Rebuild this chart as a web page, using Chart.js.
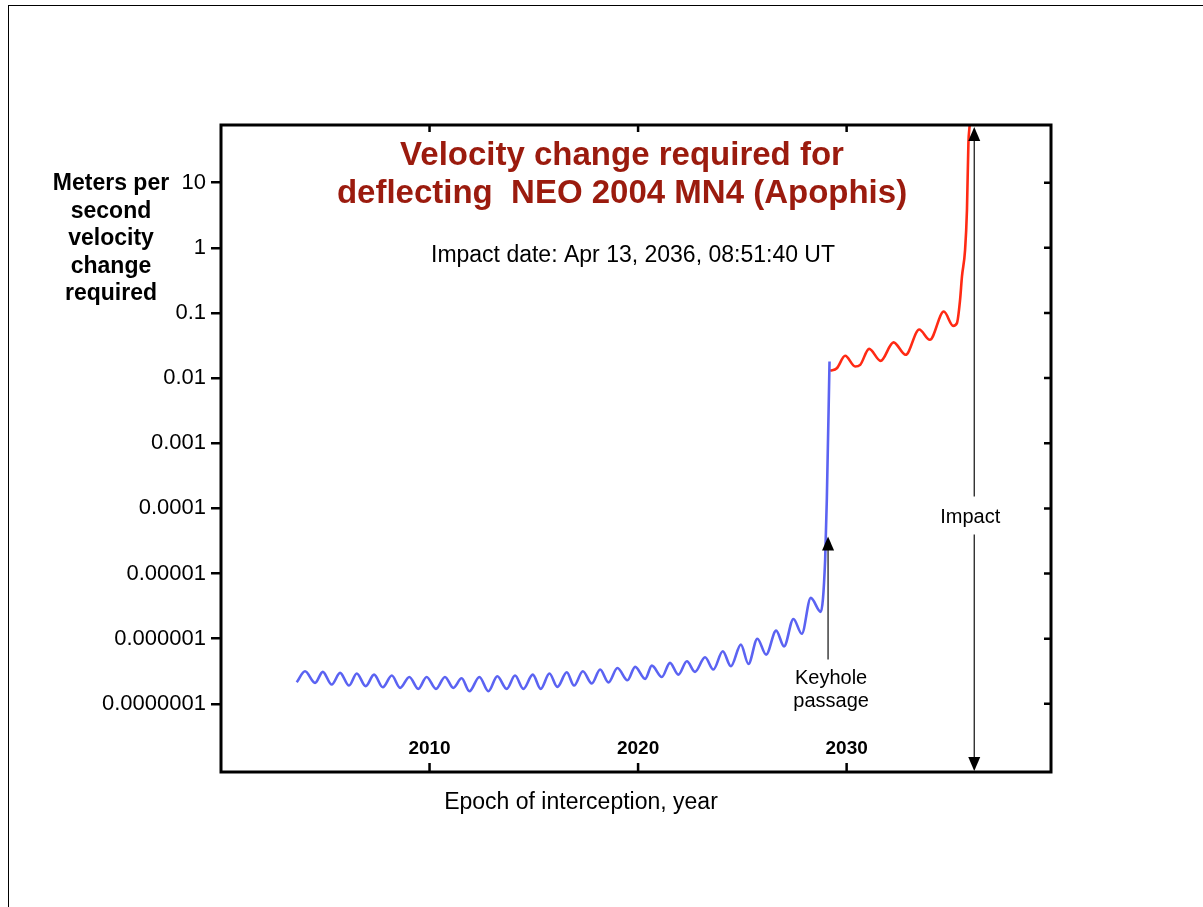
<!DOCTYPE html>
<html>
<head>
<meta charset="utf-8">
<title>Velocity change required for deflecting NEO 2004 MN4 (Apophis)</title>
<script src="https://cdn.jsdelivr.net/npm/chart.js@4.4.1/dist/chart.umd.min.js"></script>
<style>
  html, body { margin: 0; padding: 0; background: #fff; overflow: hidden; }
  #wrap { position: relative; width: 1203px; height: 907px; }
  #frame { position: absolute; left: 8px; top: 5px; width: 1300px; height: 1000px; border: 1.5px solid #000; pointer-events: none; }
</style>
</head>
<body>
<div id="wrap">
  <canvas id="chart"></canvas>
  <div id="frame"></div>
</div>
<script>
// ---- data ----
const blueYears = [
  2003.63, 2004.03, 2004.51, 2004.88, 2005.31, 2005.71, 2006.14, 2006.51, 2006.94, 2007.34,
  2007.76, 2008.19, 2008.59, 2009.03, 2009.46, 2009.86, 2010.31, 2010.74, 2011.14, 2011.54,
  2011.91, 2012.39, 2012.82, 2013.25, 2013.70, 2014.10, 2014.50, 2014.95, 2015.33, 2015.75,
  2016.13, 2016.58, 2016.93, 2017.35, 2017.78, 2018.18, 2018.58, 2019.01, 2019.49, 2019.86,
  2020.34, 2020.66, 2021.14, 2021.53, 2021.93, 2022.34, 2022.73, 2023.21, 2023.61, 2024.06,
  2024.45, 2024.93, 2025.29, 2025.72, 2026.14, 2026.62, 2027.00, 2027.45, 2027.85, 2028.28,
  2028.76, 2028.97, 2029.05, 2029.18
];
const blueValues = [
  2.14e-7, 3.16e-7, 2.10e-7, 3.10e-7, 1.98e-7, 2.99e-7, 1.91e-7, 2.92e-7, 1.87e-7, 2.81e-7,
  1.80e-7, 2.72e-7, 1.76e-7, 2.59e-7, 1.70e-7, 2.59e-7, 1.70e-7, 2.59e-7, 1.76e-7, 2.47e-7,
  1.56e-7, 2.59e-7, 1.56e-7, 2.65e-7, 1.70e-7, 2.72e-7, 1.70e-7, 2.81e-7, 1.70e-7, 2.92e-7,
  1.82e-7, 3.05e-7, 1.91e-7, 3.16e-7, 2.05e-7, 3.36e-7, 2.14e-7, 3.56e-7, 2.30e-7, 3.70e-7,
  2.42e-7, 3.86e-7, 2.59e-7, 4.26e-7, 2.81e-7, 4.50e-7, 3.10e-7, 5.19e-7, 3.36e-7, 6.41e-7,
  3.77e-7, 8.11e-7, 4.10e-7, 1.00e-6, 5.70e-7, 1.33e-6, 7.64e-7, 2.01e-6, 1.19e-6, 4.23e-6,
  2.58e-6, 1.63e-5, 1.36e-4, 0.018
];
const redYears = [
  2029.21, 2029.53, 2029.93, 2030.41, 2030.65, 2031.08, 2031.63, 2032.25, 2032.83, 2033.48,
  2033.99, 2034.66, 2035.11, 2035.29, 2035.44, 2035.53, 2035.68, 2035.77, 2035.84, 2035.90,
  2035.95
];
const redValues = [
  0.0129, 0.0142, 0.0220, 0.0151, 0.0160, 0.0281, 0.0184, 0.0354, 0.0228, 0.0556,
  0.0387, 0.105, 0.0634, 0.0698, 0.159, 0.361, 0.929, 3.81, 40.6, 76.7,
  150
];

const xTickValues = [2010, 2020, 2030];
const yTickValues = [1e-7, 1e-6, 1e-5, 1e-4, 1e-3, 1e-2, 1e-1, 1, 10];
const yTickLabels = ['0.0000001', '0.000001', '0.00001', '0.0001', '0.001', '0.01', '0.1', '1', '10'];

// annotation anchors (data units)
const keyholeYear = 2029.11;
const keyholeTip = 3.7e-5;
const keyholeTail = 4.8e-7;
const impactYear = 2036.12;
const impactLabelValue = 7.5e-5;

const FONT = '"Liberation Sans", Arial, Helvetica, sans-serif';
Chart.defaults.font.family = FONT;
Chart.defaults.color = '#000';

function toPoints(xs, ys) {
  return xs.map((x, i) => ({ x: x, y: ys[i] }));
}

function arrowHead(ctx, x, tipY, dir) {
  // dir -1 points up, +1 points down
  ctx.beginPath();
  ctx.moveTo(x, tipY);
  ctx.lineTo(x - 6, tipY - dir * 14);
  ctx.lineTo(x + 6, tipY - dir * 14);
  ctx.closePath();
  ctx.fill();
}

const overlay = {
  id: 'overlay',
  afterDraw(chart) {
    const { ctx, chartArea: a } = chart;
    const xs = chart.scales.x;
    const ys = chart.scales.y;
    ctx.save();

    // plot frame and inward ticks
    ctx.strokeStyle = '#000';
    ctx.lineWidth = 3;
    ctx.strokeRect(a.left, a.top, a.right - a.left, a.bottom - a.top);
    ctx.lineWidth = 2.5;
    ctx.beginPath();
    xTickValues.forEach(v => {
      const px = xs.getPixelForValue(v);
      ctx.moveTo(px, a.bottom);
      ctx.lineTo(px, a.bottom - 9);
      ctx.moveTo(px, a.top);
      ctx.lineTo(px, a.top + 7);
    });
    yTickValues.forEach(v => {
      const py = ys.getPixelForValue(v);
      ctx.moveTo(a.right, py);
      ctx.lineTo(a.right - 7, py);
    });
    ctx.stroke();

    // keyhole arrow
    ctx.strokeStyle = '#222';
    ctx.fillStyle = '#000';
    ctx.lineWidth = 1.3;
    const kx = xs.getPixelForValue(keyholeYear);
    const kTip = ys.getPixelForValue(keyholeTip);
    const kTail = ys.getPixelForValue(keyholeTail);
    ctx.beginPath();
    ctx.moveTo(kx, kTail);
    ctx.lineTo(kx, kTip + 12);
    ctx.stroke();
    arrowHead(ctx, kx, kTip, -1);

    // impact arrow (both ends), broken around its label
    const ix = xs.getPixelForValue(impactYear);
    const iLabel = ys.getPixelForValue(impactLabelValue);
    ctx.beginPath();
    ctx.moveTo(ix, a.top + 12);
    ctx.lineTo(ix, iLabel - 20);
    ctx.moveTo(ix, iLabel + 18);
    ctx.lineTo(ix, a.bottom - 12);
    ctx.stroke();
    arrowHead(ctx, ix, a.top + 2, -1);
    arrowHead(ctx, ix, a.bottom - 1, 1);

    ctx.textAlign = 'center';
    ctx.textBaseline = 'alphabetic';
    ctx.font = '20px ' + FONT;
    ctx.fillText('Impact', ix - 4, iLabel + 6);
    ctx.fillText('Keyhole', kx + 3, kTail + 25);
    ctx.fillText('passage', kx + 3, kTail + 48);

    // titles
    ctx.fillStyle = '#9b1b0e';
    ctx.font = 'bold 33px ' + FONT;
    ctx.fillText('Velocity change required for', 622, 165);
    ctx.fillText('deflecting  NEO 2004 MN4 (Apophis)', 622, 203);
    ctx.fillStyle = '#000';
    ctx.font = '23px ' + FONT;
    ctx.fillText('Impact date: Apr 13, 2036, 08:51:40 UT', 633, 262);
    ctx.fillText('Epoch of interception, year', 581, 809);

    ctx.font = 'bold 23px ' + FONT;
    ['Meters per', 'second', 'velocity', 'change', 'required'].forEach((t, i) => {
      ctx.fillText(t, 111, 190 + i * 27.5);
    });
    ctx.restore();
  }
};

new Chart(document.getElementById('chart'), {
  type: 'line',
  data: {
    datasets: [
      {
        label: 'Before keyhole',
        data: toPoints(blueYears, blueValues),
        borderColor: '#5b63f2',
        borderWidth: 2.6,
        pointRadius: 0,
        cubicInterpolationMode: 'monotone',
        fill: false,
      },
      {
        label: 'After keyhole',
        data: toPoints(redYears, redValues),
        borderColor: '#ff2a14',
        borderWidth: 2.6,
        pointRadius: 0,
        cubicInterpolationMode: 'monotone',
        fill: false,
      },
    ],
  },
  options: {
    responsive: true,
    maintainAspectRatio: false,
    animation: false,
    events: [],
    layout: { padding: { top: 125, right: 152, bottom: 133, left: 0 } },
    plugins: { legend: { display: false }, tooltip: { enabled: false } },
    scales: {
      x: {
        type: 'linear',
        position: 'bottom',
        min: 2000,
        max: 2039.8,
        afterBuildTicks: scale => { scale.ticks = xTickValues.map(v => ({ value: v })); },
        afterFit: scale => { scale.height = 2; },
        grid: { display: false, drawTicks: false },
        border: { display: false },
        ticks: {
          mirror: true,
          padding: 12,
          autoSkip: false,
          maxRotation: 0,
          font: { size: 19, weight: 'bold' },
          color: '#000',
          callback: v => String(v),
        },
      },
      y: {
        type: 'logarithmic',
        position: 'left',
        min: 9.1e-9,
        max: 76.7,
        afterBuildTicks: scale => { scale.ticks = yTickValues.map(v => ({ value: v })); },
        afterFit: scale => { scale.width = 221; },
        grid: { drawOnChartArea: false, drawTicks: true, tickLength: 10, color: '#000', lineWidth: 2.5 },
        border: { display: false },
        ticks: {
          padding: 5,
          autoSkip: false,
          font: { size: 22 },
          color: '#000',
          callback: (v, i) => yTickLabels[i],
        },
      },
    },
  },
  plugins: [overlay],
});
</script>
</body>
</html>
